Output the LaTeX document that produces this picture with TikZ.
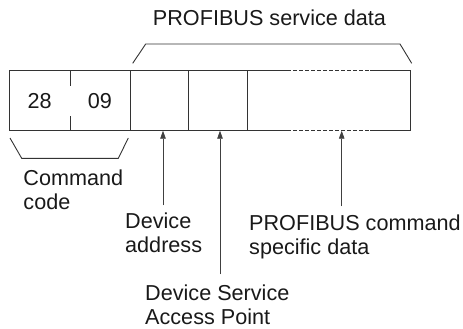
\documentclass[tikz,border=0pt]{standalone}
\usepackage{fontspec}
\setmainfont{Liberation Sans}
\usetikzlibrary{positioning, arrows.meta}

\tikzset{
  lbl/.style={font=\fontsize{21.7}{24}\selectfont, text=black!90, inner sep=0pt, align=left, anchor=north west},
  cell/.style={minimum height=60bp, inner sep=0pt, outer sep=0pt, font=\fontsize{21.7}{24}\selectfont, text=black!90},
  frame/.style={draw=black!80, line width=0.9bp},
  pointer/.style={-{Triangle[length=8bp,width=5.5bp]}, draw=black!75, fill=black!75, line width=0.8bp},
}

\begin{document}
\begin{tikzpicture}[x=1bp, y=-1bp]
  \useasboundingbox (0,0) rectangle (463,328);

  % Frame cells
  \node[cell, minimum width=60.7bp] (c28) at (39.65,100.7) {28};
  \node[cell, minimum width=60bp, right=0pt of c28] (c09) {09};
  \node[cell, frame, minimum width=58.3bp, right=0pt of c09] (addr) {};
  \node[cell, frame, minimum width=58.7bp, right=0pt of addr] (sap) {};
  \node[cell, minimum width=163bp, right=0pt of sap] (data) {};

  % Command code box, broken divider
  \draw[frame] (c28.north west) rectangle (c09.south east);
  \draw[frame] (c28.north east) -- ++(0,15) (c28.south east) -- ++(0,-15);

  % Data field, dashed middle part
  \draw[frame] (data.north west) -- ++(40,0) (data.south west) -- ++(40,0);
  \draw[frame] (data.north east) ++(-40,0) -- (data.north east) -- (data.south east) -- ++(-40,0);
  \draw[frame, dash pattern=on 3.5bp off 2.5bp]
    (data.north west) ++(40,0) -- ++(83,0) (data.south west) ++(40,0) -- ++(83,0);

  % Braces
  \draw[frame] (132.7,63.3) -- (145.7,44) -- (400,44) -- (411.7,63.3);
  \draw[frame] (10,138) -- (21.7,158.3) -- (118.3,158.3) -- (128.3,138);

  % Labels
  \node[lbl, anchor=north] (svc) at (269.5,10) {PROFIBUS service data};
  \node[lbl] (code) at (23.3,170) {Command\\code};
  \node[lbl] (devaddr) at (125,213) {Device\\address};
  \node[lbl] (dsap) at (145,285) {Device Service\\Access Point};
  \node[lbl] (cmddata) at (249,215) {PROFIBUS command\\specific data};

  % Pointers
  \draw[pointer, shorten <=8bp] (163,0 |- devaddr.north) -- (163,0 |- addr.south);
  \draw[pointer, shorten <=11bp] (220,0 |- dsap.north) -- (220,0 |- sap.south);
  \draw[pointer, shorten <=9bp] (341.7,0 |- cmddata.north) -- (341.7,0 |- data.south);

\end{tikzpicture}
\end{document}
